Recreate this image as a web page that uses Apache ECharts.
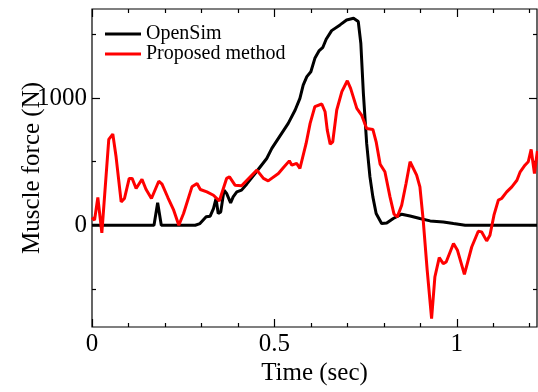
<!DOCTYPE html>
<html>
<head>
<meta charset="utf-8">
<script src="https://cdn.jsdelivr.net/npm/echarts@6/dist/echarts.min.js"></script>
<style>
  html, body { margin: 0; padding: 0; background: #fff; }
  #chart { width: 538px; height: 392px; }
</style>
</head>
<body>
<div id="chart"></div>
<script>
// OpenSim muscle force
const openSimTime = [0, 0.170, 0.180, 0.190, 0.283, 0.296, 0.313, 0.324, 0.333, 0.340, 0.346, 0.353, 0.362, 0.369,
  0.380, 0.387, 0.397, 0.410, 0.424, 0.447, 0.479, 0.493, 0.515, 0.538, 0.557, 0.570, 0.579, 0.589, 0.600,
  0.611, 0.623, 0.633, 0.642, 0.657, 0.680, 0.698, 0.717, 0.730, 0.737, 0.744, 0.753, 0.762, 0.770, 0.779,
  0.794, 0.808, 0.826, 0.849, 0.872, 0.899, 0.927, 0.963, 0.991, 1.023, 1.220];
const openSimForce = [0, 0, 176, 0, 0, 13, 66, 71, 131, 210, 92, 105, 276, 250,
  176, 223, 262, 276, 323, 407, 525, 604, 701, 801, 906, 997, 1102, 1168, 1207,
  1312, 1373, 1399, 1462, 1530, 1575, 1614, 1627, 1601, 1431, 1037, 643, 380, 223, 92,
  13, 18, 53, 87, 73, 53, 34, 26, 13, 0, 0];

// Proposed method
const proposedTime = [0, 0.007, 0.016, 0.027, 0.046, 0.057, 0.066, 0.080, 0.089, 0.102, 0.110, 0.121, 0.137,
  0.148, 0.163, 0.183, 0.192, 0.208, 0.224, 0.238, 0.251, 0.274, 0.288, 0.297, 0.315, 0.333, 0.349, 0.369,
  0.377, 0.392, 0.410, 0.452, 0.470, 0.483, 0.511, 0.525, 0.541, 0.548, 0.561, 0.570, 0.587, 0.598, 0.611,
  0.630, 0.639, 0.645, 0.653, 0.660, 0.671, 0.685, 0.700, 0.709, 0.726, 0.739, 0.753, 0.770, 0.779, 0.790,
  0.803, 0.817, 0.828, 0.837, 0.849, 0.861, 0.872, 0.890, 0.899, 0.908, 0.919, 0.931, 0.940, 0.952, 0.963,
  0.971, 0.991, 1.002, 1.021, 1.041, 1.059, 1.068, 1.082, 1.091, 1.102, 1.114, 1.123, 1.137, 1.151, 1.165,
  1.174, 1.187, 1.196, 1.204, 1.213, 1.221];
const proposedForce = [60, 40, 218, -60, 675, 717, 538, 184, 210, 368, 368, 289, 362,
  283, 210, 346, 323, 218, 118, 0, 92, 302, 328, 281, 262, 236, 191, 368,
  380, 315, 310, 433, 368, 349, 407, 454, 506, 472, 486, 446, 643, 801, 932,
  953, 892, 748, 638, 656, 906, 1050, 1136, 1076, 919, 866, 761, 753, 656, 480,
  420, 223, 87, 66, 157, 328, 499, 394, 302, 40, -354, -735, -407, -255, -302,
  -289, -144, -197, -386, -171, -47, -52, -123, -79, 79, 197, 210, 262, 302, 354,
  420, 472, 499, 596, 407, 585];

// axis ticks and labels
const xMajorTicks = [0, 0.5, 1];
const xMinorTicks = [0.1, 0.2, 0.3, 0.4, 0.6, 0.7, 0.8, 0.9, 1.1, 1.2];
const yMajorTicks = [0, 1000];
const yMinorTicks = [-500, 500, 1500];

const FONT = 'Liberation Serif';

const pairs = (xs, ys) => xs.map((x, i) => [x, ys[i]]);

function xAx(pos, ticks, len, withLabels) {
  return {
    type: 'value', min: 0, max: 1.22, interval: 0.1, position: pos,
    axisLine: { show: false, onZero: false },
    axisTick: { show: true, inside: true, length: len, customValues: ticks,
      lineStyle: { color: '#000', width: 1.2 } },
    axisLabel: withLabels
      ? { show: true, customValues: xMajorTicks, margin: 5, color: '#000', fontFamily: FONT, fontSize: 25,
          formatter: v => String(v) }
      : { show: false },
    splitLine: { show: false }
  };
}

function yAx(pos, ticks, len, withLabels) {
  return {
    type: 'value', min: -800, max: 1700, interval: 100, position: pos,
    axisLine: { show: false, onZero: false },
    axisTick: { show: true, inside: true, length: len, customValues: ticks,
      lineStyle: { color: '#000', width: 1.2 } },
    axisLabel: withLabels
      ? { show: true, customValues: yMajorTicks, margin: 5, color: '#000', fontFamily: FONT, fontSize: 25,
          formatter: v => String(v) }
      : { show: false },
    splitLine: { show: false }
  };
}

const chart = echarts.init(document.getElementById('chart'));

const xMain = xAx('bottom', xMajorTicks, 8, true);
xMain.name = 'Time (sec)';
xMain.nameLocation = 'middle';
xMain.nameGap = 34;
xMain.nameMoveOverlap = false;
xMain.nameTextStyle = { color: '#000', fontFamily: FONT, fontSize: 25 };

const yMain = yAx('left', yMajorTicks, 8, true);
yMain.name = 'Muscle force (N)';
yMain.nameLocation = 'middle';
yMain.nameGap = 47;
yMain.nameMoveOverlap = false;
yMain.nameTextStyle = { color: '#000', fontFamily: FONT, fontSize: 25 };

chart.setOption({
  animation: false,
  backgroundColor: '#fff',
  grid: {
    left: 92, right: 1, top: 9, bottom: 65,
    outerBoundsMode: 'none',
    containLabel: false,
    show: true, borderColor: '#000', borderWidth: 1.2, backgroundColor: 'transparent'
  },
  legend: {
    orient: 'vertical',
    left: 105, top: 24,
    padding: 0,
    itemGap: 0,
    itemWidth: 36,
    itemHeight: 3,
    icon: 'rect',
    textStyle: { color: '#000', fontFamily: FONT, fontSize: 20, lineHeight: 19 },
    data: ['OpenSim', 'Proposed method']
  },
  xAxis: [
    xMain,
    xAx('bottom', xMinorTicks, 4, false),
    xAx('top', xMajorTicks, 8, false),
    xAx('top', xMinorTicks, 4, false)
  ],
  yAxis: [
    yMain,
    yAx('left', yMinorTicks, 4, false),
    yAx('right', yMajorTicks, 8, false),
    yAx('right', yMinorTicks, 4, false)
  ],
  series: [
    {
      name: 'OpenSim', type: 'line', xAxisIndex: 0, yAxisIndex: 0,
      symbol: 'none', color: '#000',
      lineStyle: { color: '#000', width: 3 },
      data: pairs(openSimTime, openSimForce)
    },
    {
      name: 'Proposed method', type: 'line', xAxisIndex: 0, yAxisIndex: 0,
      symbol: 'none', color: '#ff0000',
      lineStyle: { color: '#ff0000', width: 3 },
      data: pairs(proposedTime, proposedForce)
    }
  ]
});
</script>
</body>
</html>
